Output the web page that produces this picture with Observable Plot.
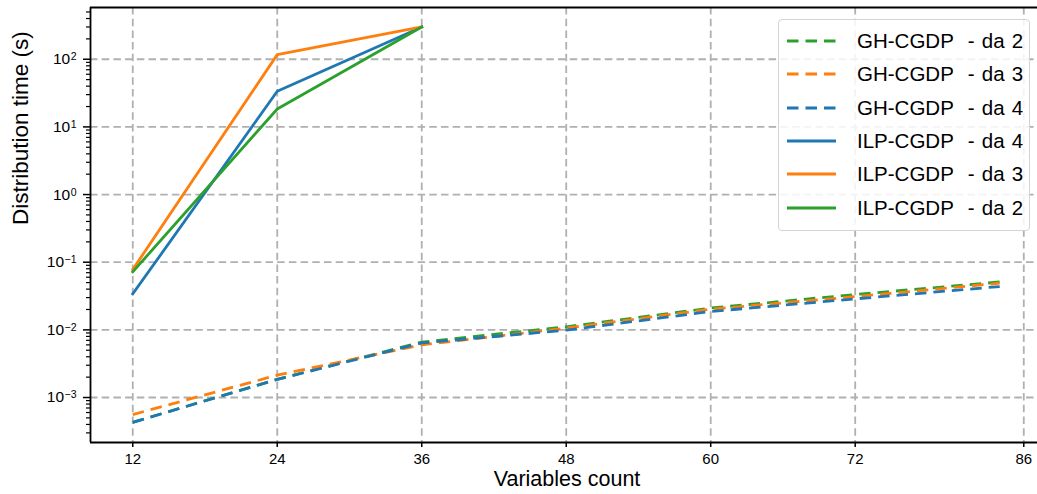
<!DOCTYPE html>
<html>
<head>
<meta charset="utf-8">
<script src="https://cdn.jsdelivr.net/npm/d3@7"></script>
<script src="https://cdn.jsdelivr.net/npm/@observablehq/plot@0.6"></script>
<style>
  body { margin: 0; background: #fff; font-family: "Liberation Sans", Arial, sans-serif; }
  #wrap { position: relative; width: 1037px; height: 494px; overflow: hidden; background: #fff; }
  #legend { position: absolute; left: 778px; top: 19px; width: 252px; height: 212px;
            border: 1px solid #d4d4d4; border-radius: 4px; background: rgba(255,255,255,0.85);
            box-sizing: border-box; }
  .lrow { position: absolute; height: 24px; display: flex; align-items: center; }
  .lrow svg { display: block; }
  .ltext { position: absolute; height: 24px; line-height: 24px; font-size: 20.5px; word-spacing: 1.5px; white-space: pre; color: #000; }
</style>
</head>
<body>
<div id="wrap"></div>
<script>
// ---- data ----
const xGH = [12, 24, 36, 48, 60, 72, 84];
const ghDa2 = [0.00043, 0.00186, 0.0066, 0.0111, 0.0210, 0.0333, 0.0510];
const ghDa3 = [0.00056, 0.00214, 0.0060, 0.0106, 0.0202, 0.0310, 0.0490];
const ghDa4 = [0.00043, 0.00185, 0.0064, 0.0099, 0.0187, 0.0287, 0.0437];
const xILP = [12, 24, 36];
const ilpDa4 = [0.034, 33.6, 300];
const ilpDa3 = [0.078, 117, 300];
const ilpDa2 = [0.072, 18.4, 300];

const xTicks = [12, 24, 36, 48, 60, 72, 86];
const yDecades = [-3, -2, -1, 0, 1, 2];
const yMinorMult = [2, 3, 4, 5, 6, 7, 8, 9];

const seriesNames = ["GH-CGDP  - da 2", "GH-CGDP  - da 3", "GH-CGDP  - da 4",
                     "ILP-CGDP  - da 4", "ILP-CGDP  - da 3", "ILP-CGDP  - da 2"];
const seriesColors = ["#2ca02c", "#ff7f0e", "#1f77b4", "#1f77b4", "#ff7f0e", "#2ca02c"];
const seriesDashed = [true, true, true, false, false, false];
const seriesX = [xGH, xGH, xGH, xILP, xILP, xILP];
const seriesY = [ghDa2, ghDa3, ghDa4, ilpDa4, ilpDa3, ilpDa2];

// ---- build ----
const xMin = 8.49, xMax = 87.14;
const yBot = Math.pow(10, -3.665), yTop = Math.pow(10, 2.765);
const yMajor = yDecades.map(e => Math.pow(10, e));
const yMinor = [];
for (const e of [-4, ...yDecades]) for (const m of yMinorMult) {
  const v = m * Math.pow(10, e);
  if (v > yBot && v < yTop) yMinor.push(v);
}

const gridStyle = { stroke: "#b0b0b0", strokeOpacity: 1, strokeWidth: 1.8, strokeDasharray: "7.5,4.2" };
const dashPattern = "11.5,7";

const lineMarks = seriesNames.map((name, i) => {
  const rows = seriesX[i].map((x, j) => ({ x, y: seriesY[i][j] }));
  return Plot.line(rows, {
    x: "x", y: "y", stroke: seriesColors[i], strokeWidth: 2.8,
    strokeDasharray: seriesDashed[i] ? dashPattern : null,
    strokeLinecap: seriesDashed[i] ? "butt" : "square", strokeLinejoin: "round"
  });
});

const chart = Plot.plot({
  width: 1037, height: 494,
  marginLeft: 90, marginRight: 0, marginTop: 7, marginBottom: 52,
  style: { fontFamily: '"Liberation Sans", Arial, sans-serif', fontSize: "15px", background: "white", color: "black" },
  x: { domain: [xMin, xMax] },
  y: { type: "log", domain: [yBot, yTop] },
  marks: [
    Plot.gridX(xTicks, gridStyle),
    Plot.gridY(yMajor, gridStyle),
    ...lineMarks,
    Plot.axisX(xTicks, { tickSize: 5, tickPadding: 6, label: null, tickFormat: d => String(d), strokeWidth: 1.5 }),
    Plot.axisY(yMinor, { tickSize: 4, label: null, tickFormat: () => "", strokeWidth: 1.2 }),
    Plot.axisY(yMajor, { tickSize: 7, tickPadding: 7, label: null,
      tickFormat: d => "10^" + Math.round(Math.log10(d)), strokeWidth: 1.5 }),
    Plot.ruleX([xMin], { stroke: "black", strokeWidth: 1.8 }),
    Plot.ruleY([yBot], { stroke: "black", strokeWidth: 1.8 }),
    Plot.ruleY([yTop], { stroke: "black", strokeWidth: 1.8 }),
    Plot.text(["Variables count"], { frameAnchor: "bottom", dy: 43.5, dx: 3, fontSize: 21.5 }),
    Plot.text(["Distribution time (s)"], { frameAnchor: "left", dx: -70, rotate: -90, fontSize: 22.5 })
  ]
});

// tick label sizes
chart.querySelectorAll('g[aria-label="x-axis tick label"] text').forEach(t => { t.style.fontSize = "15px"; });
// superscript exponents on y tick labels
chart.querySelectorAll('g[aria-label="y-axis tick label"] text').forEach(t => {
  const s = t.textContent;
  if (!s.startsWith("10^")) return;
  const exp = s.slice(3).replace("-", "\u2212");
  t.style.fontSize = "15.5px";
  t.textContent = "10";
  const ts = document.createElementNS("http://www.w3.org/2000/svg", "tspan");
  ts.setAttribute("dy", "-4");
  ts.setAttribute("dx", "0.5");
  ts.style.fontSize = "10.5px";
  ts.textContent = exp;
  t.appendChild(ts);
});

const wrap = document.getElementById("wrap");
wrap.appendChild(chart);

// legend overlay
const legend = document.createElement("div");
legend.id = "legend";
wrap.appendChild(legend);
seriesNames.forEach((name, i) => {
  const cy = 40.8 + i * 33.4;
  const row = document.createElement("div");
  row.className = "lrow";
  row.style.left = "787px";
  row.style.top = (cy - 12) + "px";
  row.innerHTML = `<svg width="49" height="24"><line x1="0" x2="49" y1="12" y2="12" stroke="${seriesColors[i]}" stroke-width="2.8" ${seriesDashed[i] ? `stroke-dasharray="${dashPattern}"` : ""}/></svg>`;
  wrap.appendChild(row);
  const tx = document.createElement("div");
  tx.className = "ltext";
  tx.style.left = "857px";
  tx.style.top = (cy - 12) + "px";
  tx.textContent = name;
  wrap.appendChild(tx);
});
</script>
</body>
</html>
